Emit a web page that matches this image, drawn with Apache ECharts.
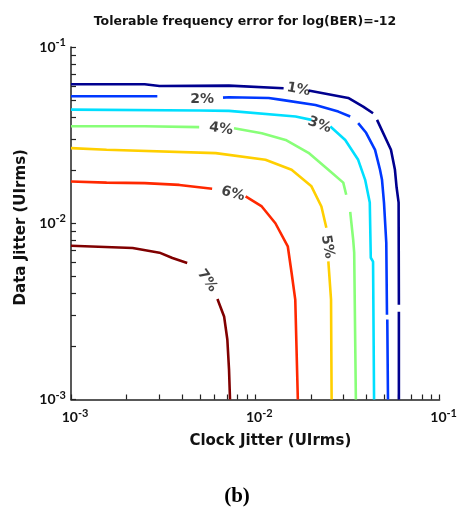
<!DOCTYPE html>
<html><head><meta charset="utf-8">
<script src="https://cdn.jsdelivr.net/npm/echarts@6/dist/echarts.min.js"></script>
<style>html,body{margin:0;padding:0;background:#fff}#c{width:460px;height:507px}</style>
</head><body><div id="c"></div>
<script>
// Contour levels (tolerable frequency error)
const levels = ['1%', '2%', '3%', '4%', '5%', '6%', '7%'];
const colors = ['#00008f', '#0038ff', '#00dfff', '#88ff78', '#ffcf00', '#ff2800', '#800000'];

// Contour lines: [clock jitter (UIrms), data jitter (UIrms)]; null = gap in the line
const contour1 = [[0.001,0.0615],[0.00251,0.0615],[0.00302,0.0601],[0.0072,0.0604],[0.01424,0.0583],null,
  [0.01943,0.0566],[0.03192,0.0514],[0.03846,0.0459],[0.04353,0.0421],null,
  [0.04575,0.0386],[0.05443,0.0261],[0.05721,0.0201],[0.0584,0.0160],[0.0599,0.0131],[0.0601,0.00345],null,
  [0.0601,0.00315],[0.0601,0.001]];
const contour2 = [[0.001,0.0526],[0.00294,0.0526],null,
  [0.00668,0.0516],[0.0072,0.0519],[0.01182,0.0514],[0.0139,0.0501],[0.02119,0.0469],[0.02819,0.0430],[0.03272,0.0403],null,
  [0.03614,0.0370],[0.03992,0.0326],[0.04463,0.0261],[0.04748,0.0201],[0.04868,0.01764],[0.0499,0.0131],[0.05135,0.00775],[0.0518,0.00303],null,
  [0.0520,0.00284],[0.05245,0.001]];
const contour3 = [[0.001,0.0441],[0.00496,0.0436],[0.0072,0.0434],[0.01653,0.0403],[0.02016,0.0386],null,
  [0.02553,0.0354],[0.03075,0.0297],[0.03614,0.0229],[0.03943,0.01764],[0.04178,0.0131],[0.04231,0.00637],[0.04353,0.00605],[0.04408,0.001]];
const contour4 = [[0.001,0.0355],[0.00251,0.0355],[0.00496,0.0351],null,
  [0.00766,0.0346],[0.01084,0.0324],[0.0146,0.0297],[0.01943,0.0251],[0.0249,0.0201],[0.030,0.0170],[0.03113,0.0145],null,
  [0.03272,0.0116],[0.03396,0.00806],[0.03439,0.00681],[0.03512,0.001]];
const contour5 = [[0.001,0.0267],[0.00156,0.0261],[0.0061,0.0250],[0.01135,0.0229],[0.01573,0.0201],[0.02016,0.0162],[0.02283,0.01245],[0.02429,0.00943],null,
  [0.0249,0.00607],[0.02575,0.00369],[0.02594,0.001]];
const contour6 = [[0.001,0.01725],[0.00156,0.0170],[0.00251,0.0169],[0.00387,0.0165],[0.00583,0.0157],null,
  [0.00886,0.0142],[0.01084,0.01245],[0.01285,0.0100],[0.0150,0.0074],[0.01573,0.00524],[0.01647,0.00369],[0.01701,0.001]];
const contour7 = [[0.001,0.00746],[0.00216,0.00724],[0.00302,0.00681],[0.00355,0.00635],[0.00427,0.00595],null,
  [0.00623,0.00372],[0.00677,0.00296],[0.00705,0.00219],[0.0072,0.00148],[0.00729,0.001]];
const contours = [contour1, contour2, contour3, contour4, contour5, contour6, contour7];

// Inline contour label anchors and their rotation (deg)
const labelPos = [[0.01716,0.0574],[0.00515,0.0505],[0.02227,0.0361],[0.00652,0.0343],[0.0246,0.00736],[0.00756,0.0147],[0.00548,0.00472]];
const labelRot = [-10, 0, -20, -8, -80, -15, -55];

// Axis ticks
const decadeTicks = [0.001, 0.01, 0.1];
const tickValues = [];
for (let k = -3; k < -1; k++) for (let m = 1; m <= 9; m++) tickValues.push(+(m * Math.pow(10, k)).toPrecision(3));
tickValues.push(0.1);

const fontFam = 'DejaVu Sans';
const supLabel = v => '{b|10}{s|' + Math.round(Math.log10(v)) + '}';
const rich = {
  b: { fontFamily: 'Lato', fontWeight: 'bold', fontSize: 14, color: '#111' },
  s: { fontFamily: 'Lato', fontWeight: 'bold', fontSize: 11, color: '#111', padding: [0, 0, 9, 0] }
};

const series = contours.map((d, i) => ({
  type: 'line', data: d, symbol: 'none', connectNulls: false, silent: true,
  lineStyle: { color: colors[i], width: 2.6 }, z: 2
}));
series.push({
  type: 'scatter', symbolSize: 0, silent: true, z: 3,
  data: labelPos.map((p, i) => ({ value: p, name: levels[i], label: { rotate: labelRot[i] } })),
  label: { show: true, position: 'inside', formatter: '{b}', color: '#111', fontFamily: fontFam, fontWeight: 'bold', fontSize: 14 }
});

const axisCommon = {
  type: 'log', logBase: 10, min: 0.001, max: 0.1,
  axisLine: { show: true, lineStyle: { color: '#222', width: 1.5 } },
  axisTick: { show: true, inside: true, length: 5, customValues: tickValues, lineStyle: { color: '#222', width: 1.2 } },
  minorTick: { show: false },
  splitLine: { show: false },
  nameLocation: 'middle'
};

const chart = echarts.init(document.getElementById('c'), null, { renderer: 'canvas' });
chart.setOption({
  backgroundColor: '#fff',
  animation: false,
  title: [
    { text: 'Tolerable frequency error for log(BER)=-12', left: 240, top: 10, textAlign: 'center',
      textStyle: { fontFamily: fontFam, fontWeight: 'bold', fontSize: 12.5, color: '#111' } },
    { text: '(b)', left: 232, top: 481, textAlign: 'center',
      textStyle: { fontFamily: 'Liberation Serif', fontWeight: 'bold', fontSize: 21, color: '#000' } }
  ],
  grid: { left: 71, right: 18, top: 47, bottom: 107.5, containLabel: false },
  xAxis: Object.assign({}, axisCommon, {
    name: 'Clock Jitter (UIrms)', nameGap: 34,
    nameTextStyle: { fontFamily: fontFam, fontWeight: 'bold', fontSize: 15, color: '#111', padding: [0, 0, 0, 30] },
    axisLabel: { customValues: decadeTicks, formatter: supLabel, rich: rich, margin: 8, padding: [0, 0, 0, 8] }
  }),
  yAxis: Object.assign({}, axisCommon, {
    name: 'Data Jitter (UIrms)', nameGap: 37, nameRotate: 90,
    nameTextStyle: { fontFamily: fontFam, fontWeight: 'bold', fontSize: 15, color: '#111', padding: [0, 8, 0, 0] },
    axisLabel: { customValues: decadeTicks, formatter: supLabel, rich: rich, margin: 5 }
  }),
  series: series
});
</script></body></html>
